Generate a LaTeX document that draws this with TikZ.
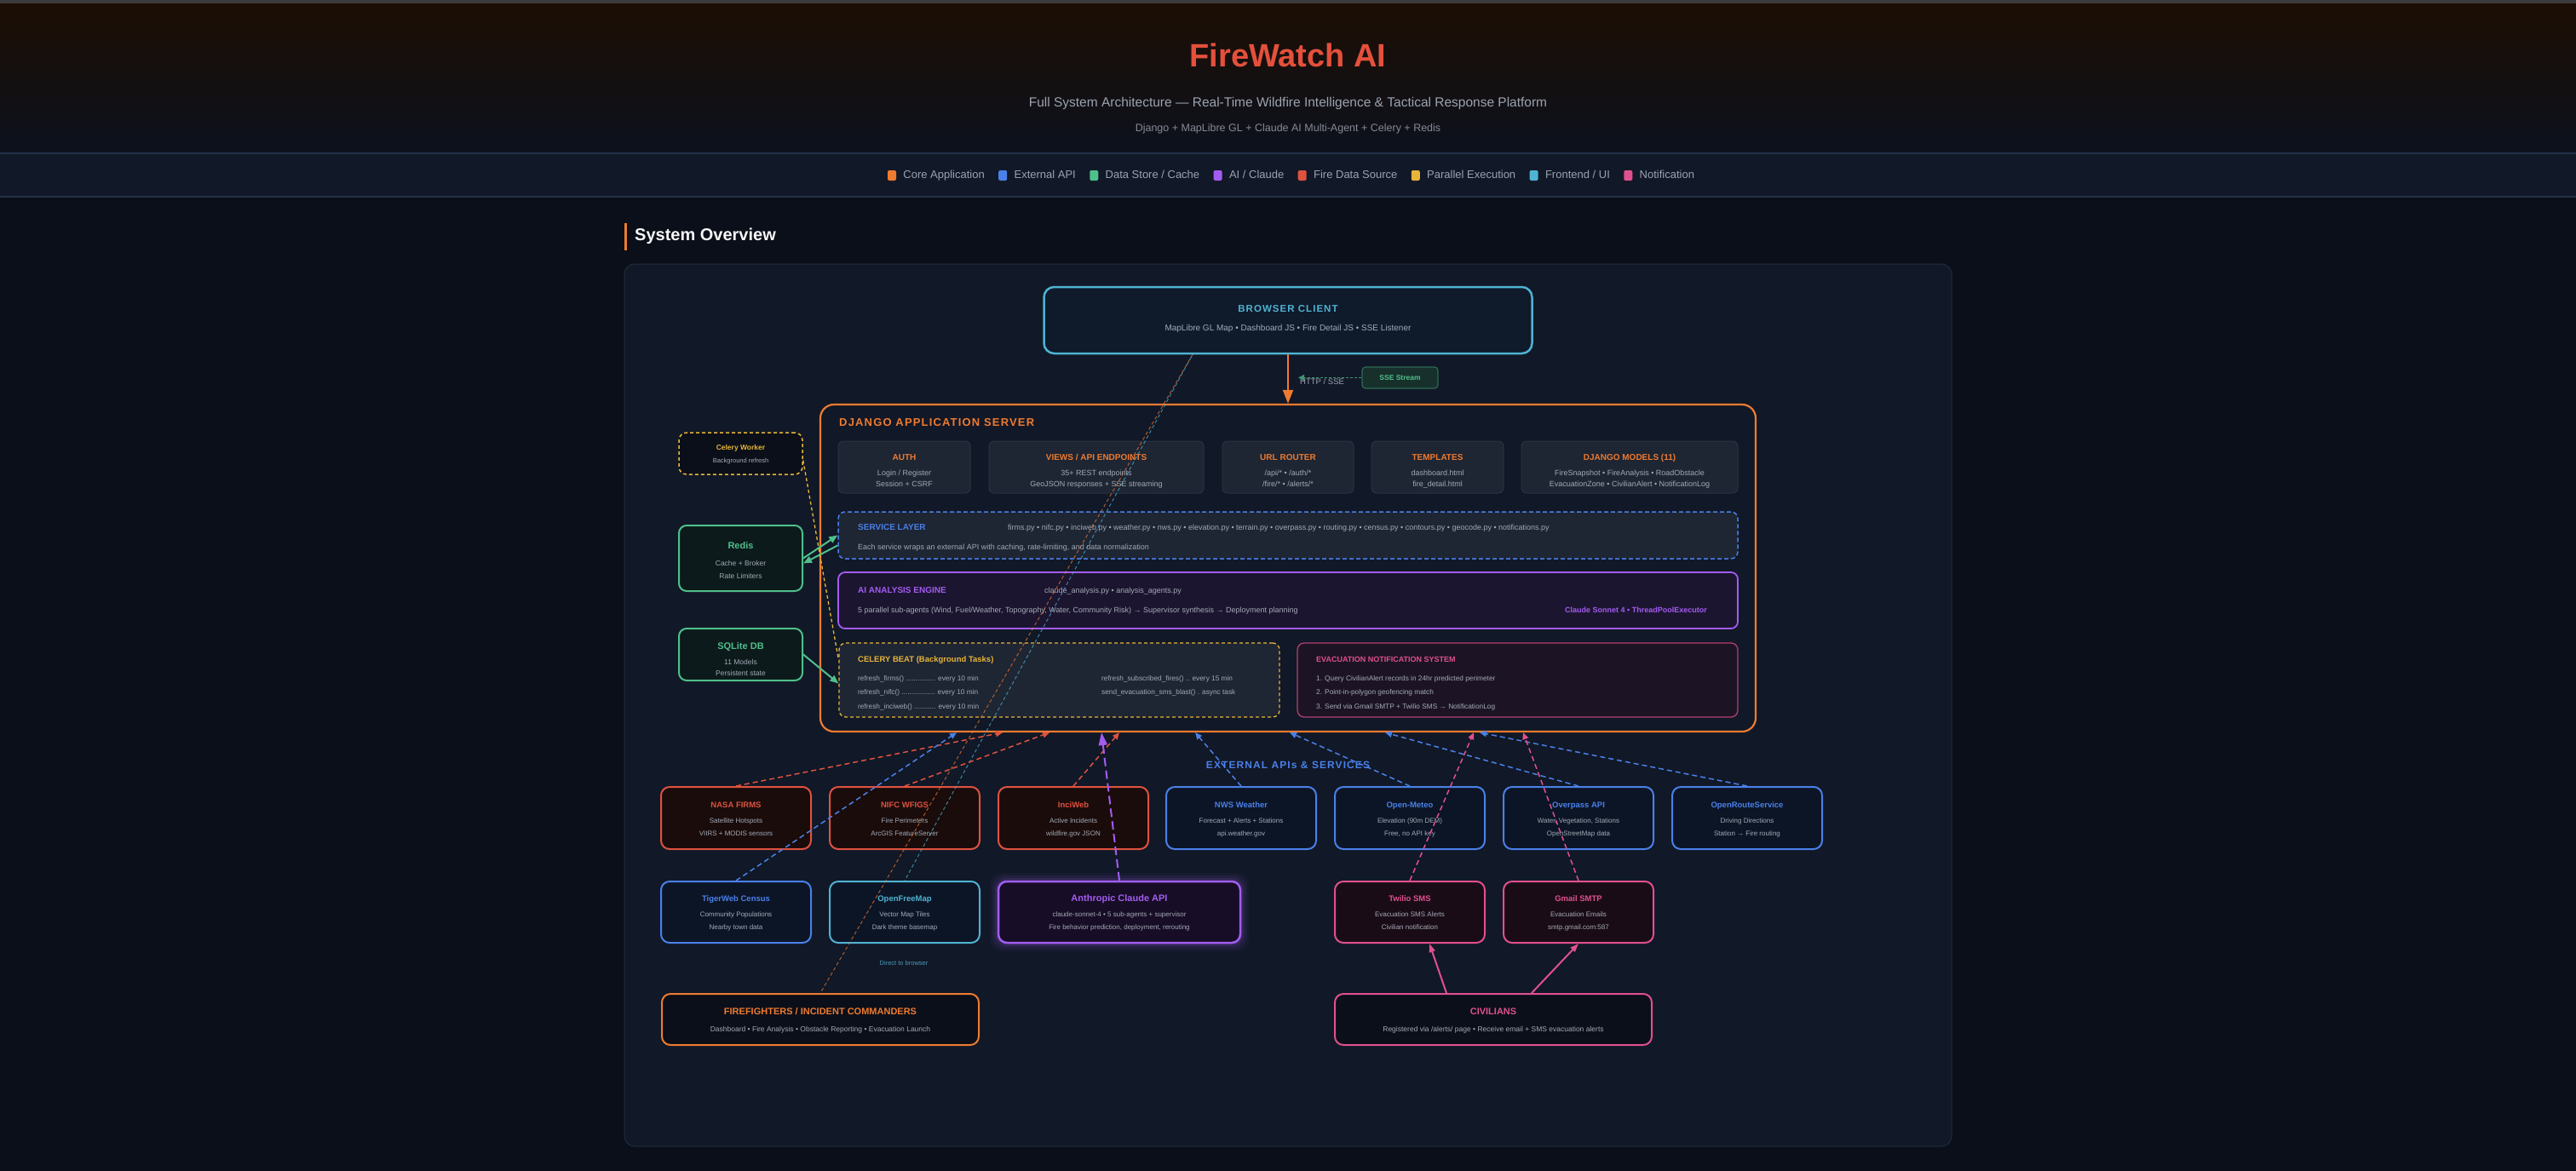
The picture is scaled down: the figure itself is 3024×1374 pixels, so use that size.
\documentclass[tikz,border=0pt]{standalone}
\usepackage{fontspec}
\setmainfont{Liberation Sans}
\newfontfamily\trackfont[LetterSpace=9]{Liberation Sans}
\usetikzlibrary{arrows.meta,calc,positioning}
\newcommand\fsz[1]{\fontsize{#1}{#1}\selectfont}
\definecolor{bgmain}{HTML}{0B0F19}
\definecolor{hdrtop}{HTML}{1C0E03}
\definecolor{hdrbot}{HTML}{0C111D}
\definecolor{topgray}{HTML}{3C3C3C}
\definecolor{legendbg}{HTML}{111827}
\definecolor{legendbd}{HTML}{253147}
\definecolor{panelbg}{HTML}{111827}
\definecolor{panelbd}{HTML}{222C3C}
\definecolor{cTitle}{HTML}{E4503C}
\definecolor{cOrange}{HTML}{EE7B30}
\definecolor{cBlue}{HTML}{4A80E8}
\definecolor{cGreen}{HTML}{4FBF8B}
\definecolor{cPurple}{HTML}{A35CF0}
\definecolor{cRed}{HTML}{DE5240}
\definecolor{cYellow}{HTML}{E6B53A}
\definecolor{cCyan}{HTML}{4FB3D3}
\definecolor{cPink}{HTML}{E0508F}
\definecolor{txtgray}{HTML}{A3AAB6}
\definecolor{hdrgray}{HTML}{9CA3AF}
\definecolor{subbox}{HTML}{1E2533}
\definecolor{subboxbd}{HTML}{2B3444}
\definecolor{darkfill}{HTML}{0B0F19}
\definecolor{redfill}{HTML}{1A0C0B}
\definecolor{bluefill}{HTML}{0C1526}
\definecolor{purplefill}{HTML}{170D26}
\definecolor{pinkfill}{HTML}{1A0C17}
\definecolor{greenfill}{HTML}{0C1A1B}
\definecolor{browserfill}{HTML}{0F1A2B}
\definecolor{aifill}{HTML}{1C1530}
\definecolor{evacfill}{HTML}{1C1424}
\definecolor{ssefill}{HTML}{17302B}
\definecolor{ssebd}{HTML}{2E6A55}
\definecolor{ssearrow}{HTML}{3F9570}
\definecolor{directc}{HTML}{4A9BB5}
% name, x, ytitle, color, title, line1, line2
\newcommand\boxtext[7]{%
  \node[ttl, text=#4] (#1-t) at (#2,#3) {#5};
  \node[lnx] (#1-a) at (#2,#3+18) {#6};
  \node[lnx] (#1-b) at (#2,#3+33) {#7};
}
% name, x, width, title, line1, line2
\newcommand\djsub[6]{%
  \node[subbx, minimum width=#3pt] (#1) at (#2,548.5) {};
  \node[subttl] (#1-t) at (#2,538) {#4};
  \node[subln] (#1-a) at (#2,555.5) {#5};
  \node[subln] (#1-b) at (#2,568.5) {#6};
}
\begin{document}
\begin{tikzpicture}[x=1pt,y=-1pt,
  ttl/.style={inner sep=0pt, anchor=mid, font=\fsz{9.5}\bfseries},
  lnx/.style={inner sep=0pt, anchor=mid, font=\fsz{8}, text=txtgray},
  subttl/.style={inner sep=0pt, anchor=mid, font=\fsz{10}\bfseries, text=cOrange},
  subln/.style={inner sep=0pt, anchor=mid, font=\fsz{9}, text=txtgray},
  wtxt/.style={inner sep=0pt, anchor=mid west},
  subbx/.style={draw=subboxbd, fill=subbox, rounded corners=6pt, line width=1pt, inner sep=0pt, minimum height=61pt},
  extbx/.style={draw=#1, line width=2pt, rounded corners=10pt, inner sep=0pt, minimum width=176pt, minimum height=73pt},
  sidebx/.style={rounded corners=9pt, inner sep=0pt, minimum width=145pt},
  legsq/.style={fill=#1, rounded corners=2pt, minimum width=10pt, minimum height=12pt, inner sep=0pt},
  legtx/.style={inner sep=0pt, font=\fsz{13}, text=hdrgray, text height=9.5pt, text depth=2.5pt},
  dasharr/.style={draw=#1, line width=1.5pt, dash pattern=on 6pt off 4pt, -{Triangle[width=7pt,length=8pt,fill=#1]}},
  greenarr/.style={draw=cGreen, line width=2pt, -{Triangle[width=8pt,length=10pt]}},
  pinkarr/.style={draw=cPink, line width=2pt, -{Triangle[width=7pt,length=10pt]}},
]
\useasboundingbox (0,0) rectangle (3024,1374);
% backgrounds
\fill[bgmain] (-20,-20) rectangle (3044,1394);
\shade[top color=hdrtop, bottom color=hdrbot] (-20,4) rectangle (3044,180);
\fill[topgray] (-20,-20) rectangle (3044,4);
\fill[legendbg] (-20,180) rectangle (3044,231);
\draw[legendbd, line width=1.5pt] (-20,180) -- (3044,180) (-20,231) -- (3044,231);

% header
\node[inner sep=0pt, anchor=mid, text=cTitle, font=\fsz{38}\bfseries] (title) at (1512,76) {FireWatch AI};
\node[inner sep=0pt, anchor=mid, text=hdrgray, font=\fsz{15.5}] (subtitle) at (1512,123) {Full System Architecture — Real-Time Wildfire Intelligence \& Tactical Response Platform};
\node[inner sep=0pt, anchor=mid, text=hdrgray!85!black, font=\fsz{12.5}] (stack) at (1512,152) {Django + MapLibre GL + Claude AI Multi-Agent + Celery + Redis};

% legend
\node[legsq=cOrange] (lg1) at (1047,206) {};
\node[legtx, right=8pt of lg1] (lt1) {Core Application};
\node[legsq=cBlue, right=16pt of lt1] (lg2) {};
\node[legtx, right=8pt of lg2] (lt2) {External API};
\node[legsq=cGreen, right=16pt of lt2] (lg3) {};
\node[legtx, right=8pt of lg3] (lt3) {Data Store / Cache};
\node[legsq=cPurple, right=16pt of lt3] (lg4) {};
\node[legtx, right=8pt of lg4] (lt4) {AI / Claude};
\node[legsq=cRed, right=16pt of lt4] (lg5) {};
\node[legtx, right=8pt of lg5] (lt5) {Fire Data Source};
\node[legsq=cYellow, right=16pt of lt5] (lg6) {};
\node[legtx, right=8pt of lg6] (lt6) {Parallel Execution};
\node[legsq=cCyan, right=16pt of lt6] (lg7) {};
\node[legtx, right=8pt of lg7] (lt7) {Frontend / UI};
\node[legsq=cPink, right=16pt of lt7] (lg8) {};
\node[legtx, right=8pt of lg8] (lt8) {Notification};

% section heading
\fill[cOrange] (733,262) rectangle (736,294);
\node[wtxt, text=white!94!gray, font=\fsz{20}\bfseries] (sysov) at (745,280) {System Overview};

% panel
\node[draw=panelbd, fill=panelbg, rounded corners=12pt, line width=1pt, minimum width=1558pt, minimum height=1036pt, inner sep=0pt] (panel) at (1512,828) {};

% browser
\node[draw=cCyan, fill=browserfill, line width=2.5pt, rounded corners=12pt, minimum width=573pt, minimum height=78pt, inner sep=0pt] (browser) at (1512,376) {};
\node[inner sep=0pt, anchor=mid, text=cCyan, font=\fsz{11.5}\trackfont\bfseries] (browser-t) at (1512,364) {BROWSER CLIENT};
\node[inner sep=0pt, anchor=mid, text=txtgray, font=\fsz{10}] (browser-a) at (1512,386) {MapLibre GL Map • Dashboard JS • Fire Detail JS • SSE Listener};

% SSE
\node[draw=ssebd, fill=ssefill, line width=1.2pt, rounded corners=4pt, minimum width=89pt, minimum height=25pt, inner sep=0pt, text=cGreen, font=\fsz{8.5}\bfseries] (sse) at (1643.5,443.5) {SSE Stream};
\node[wtxt, text=hdrgray, font=\fsz{9.5}] (httplbl) at (1526,449) {HTTP / SSE};

% django
\node[draw=cOrange, fill=panelbg, line width=2.2pt, rounded corners=16pt, minimum width=1098pt, minimum height=384pt, inner sep=0pt] (django) at (1512,667) {};
\node[wtxt, text=cOrange, font=\fsz{13}\trackfont\bfseries] (djlbl) at (985,498) {DJANGO APPLICATION SERVER};

\djsub{auth}{1061.5}{155}{AUTH}{Login / Register}{Session + CSRF}
\djsub{views}{1287}{252}{VIEWS / API ENDPOINTS}{35+ REST endpoints}{GeoJSON responses + SSE streaming}
\djsub{router}{1512}{154}{URL ROUTER}{/api/* • /auth/*}{/fire/* • /alerts/*}
\djsub{templ}{1687.5}{155}{TEMPLATES}{dashboard.html}{fire\_detail.html}
\djsub{models}{1913}{254}{DJANGO MODELS (11)}{FireSnapshot • FireAnalysis • RoadObstacle}{EvacuationZone • CivilianAlert • NotificationLog}

% service layer
\node[draw=cBlue, dash pattern=on 5pt off 3pt, fill=subbox, line width=1.5pt, rounded corners=8pt, minimum width=1056pt, minimum height=55pt, inner sep=0pt] (service) at (1512,628.5) {};
\node[wtxt, text=cBlue, font=\fsz{10}\bfseries] (service-t) at (1007,620) {SERVICE LAYER};
\node[wtxt, text=txtgray, font=\fsz{9}] (service-f) at (1183,620) {firms.py • nifc.py • inciweb.py • weather.py • nws.py • elevation.py • terrain.py • overpass.py • routing.py • census.py • contours.py • geocode.py • notifications.py};
\node[wtxt, text=txtgray, font=\fsz{9}] (service-d) at (1007,642.5) {Each service wraps an external API with caching, rate-limiting, and data normalization};

% AI engine
\node[draw=cPurple, fill=aifill, line width=1.8pt, rounded corners=8pt, minimum width=1056pt, minimum height=66pt, inner sep=0pt] (ai) at (1512,705) {};
\node[wtxt, text=cPurple, font=\fsz{10}\bfseries] (ai-t) at (1007,694) {AI ANALYSIS ENGINE};
\node[wtxt, text=txtgray, font=\fsz{9}] (ai-f) at (1226,694) {claude\_analysis.py • analysis\_agents.py};
\node[wtxt, text=txtgray, font=\fsz{9}] (ai-d) at (1007,716.5) {5 parallel sub-agents (Wind, Fuel/Weather, Topography, Water, Community Risk) → Supervisor synthesis → Deployment planning};
\node[inner sep=0pt, anchor=mid east, text=cPurple, font=\fsz{9}\bfseries] (ai-r) at (2004,716.5) {Claude Sonnet 4 • ThreadPoolExecutor};

% celery beat
\node[draw=cYellow, dash pattern=on 4pt off 3pt, fill=subbox, line width=1.3pt, rounded corners=8pt, minimum width=517pt, minimum height=87pt, inner sep=0pt] (celery) at (1243.5,798.5) {};
\node[wtxt, text=cYellow, font=\fsz{9.5}\bfseries] (celery-t) at (1007,775) {CELERY BEAT (Background Tasks)};
\node[wtxt, text=txtgray, font=\fsz{8.3}] (celery-1) at (1007,797) {refresh\_firms() ............... every 10 min};
\node[wtxt, text=txtgray, font=\fsz{8.3}] (celery-2) at (1007,813) {refresh\_nifc() ................. every 10 min};
\node[wtxt, text=txtgray, font=\fsz{8.3}] (celery-3) at (1007,830) {refresh\_inciweb() ........... every 10 min};
\node[wtxt, text=txtgray, font=\fsz{8.3}] (celery-4) at (1293,797) {refresh\_subscribed\_fires() .. every 15 min};
\node[wtxt, text=txtgray, font=\fsz{8.3}] (celery-5) at (1293,813) {send\_evacuation\_sms\_blast() . async task};

% evacuation
\node[draw=cPink!80!black, fill=evacfill, line width=1.3pt, rounded corners=8pt, minimum width=517pt, minimum height=87pt, inner sep=0pt] (evac) at (1781.5,798.5) {};
\node[wtxt, text=cPink, font=\fsz{9}\bfseries] (evac-t) at (1545,775) {EVACUATION NOTIFICATION SYSTEM};
\node[wtxt, text=txtgray, font=\fsz{8.3}] (evac-1) at (1545,797) {1. Query CivilianAlert records in 24hr predicted perimeter};
\node[wtxt, text=txtgray, font=\fsz{8.3}] (evac-2) at (1545,813) {2. Point-in-polygon geofencing match};
\node[wtxt, text=txtgray, font=\fsz{8.3}] (evac-3) at (1545,830) {3. Send via Gmail SMTP + Twilio SMS → NotificationLog};

% side boxes
\node[sidebx, draw=cYellow, dash pattern=on 4pt off 3pt, line width=1.5pt, fill=darkfill, minimum height=49pt] (worker) at (869.5,532.5) {};
\node[inner sep=0pt, anchor=mid, text=cYellow, font=\fsz{8.5}\bfseries] (worker-t) at (869.5,525.5) {Celery Worker};
\node[inner sep=0pt, anchor=mid, text=txtgray, font=\fsz{7.5}] (worker-a) at (869.5,540.5) {Background refresh};
\node[sidebx, draw=cGreen, line width=2pt, fill=greenfill, minimum height=77pt] (redis) at (869.5,655.5) {};
\node[inner sep=0pt, anchor=mid, text=cGreen, font=\fsz{11}\bfseries] (redis-t) at (869.5,642) {Redis};
\node[inner sep=0pt, anchor=mid, text=txtgray, font=\fsz{8.5}] (redis-a) at (869.5,661.5) {Cache + Broker};
\node[inner sep=0pt, anchor=mid, text=txtgray, font=\fsz{8.5}] (redis-b) at (869.5,676.5) {Rate Limiters};
\node[sidebx, draw=cGreen, line width=2pt, fill=greenfill, minimum height=61pt] (sqlite) at (869.5,768.5) {};
\node[inner sep=0pt, anchor=mid, text=cGreen, font=\fsz{11}\bfseries] (sqlite-t) at (869.5,760) {SQLite DB};
\node[inner sep=0pt, anchor=mid, text=txtgray, font=\fsz{8.5}] (sqlite-a) at (869.5,777.5) {11 Models};
\node[inner sep=0pt, anchor=mid, text=txtgray, font=\fsz{8.5}] (sqlite-b) at (869.5,790.5) {Persistent state};

% external label
\node[inner sep=0pt, anchor=mid, text=cBlue, font=\fsz{12}\trackfont\bfseries] (extlbl) at (1512,900) {EXTERNAL APIs \& SERVICES};

% row 1
\node[extbx=cRed, fill=redfill] (firms) at (864,960.5) {};
\boxtext{firms}{864}{946}{cRed}{NASA FIRMS}{Satellite Hotspots}{VIIRS + MODIS sensors}
\node[extbx=cRed, fill=redfill] (nifc) at (1062,960.5) {};
\boxtext{nifc}{1062}{946}{cRed}{NIFC WFIGS}{Fire Perimeters}{ArcGIS FeatureServer}
\node[extbx=cRed, fill=redfill] (inciweb) at (1260,960.5) {};
\boxtext{inciweb}{1260}{946}{cRed}{InciWeb}{Active Incidents}{wildfire.gov JSON}
\node[extbx=cBlue, fill=bluefill] (nws) at (1457,960.5) {};
\boxtext{nws}{1457}{946}{cBlue}{NWS Weather}{Forecast + Alerts + Stations}{api.weather.gov}
\node[extbx=cBlue, fill=bluefill] (meteo) at (1655,960.5) {};
\boxtext{meteo}{1655}{946}{cBlue}{Open-Meteo}{Elevation (90m DEM)}{Free, no API key}
\node[extbx=cBlue, fill=bluefill] (overpass) at (1853,960.5) {};
\boxtext{overpass}{1853}{946}{cBlue}{Overpass API}{Water, Vegetation, Stations}{OpenStreetMap data}
\node[extbx=cBlue, fill=bluefill] (ors) at (2051,960.5) {};
\boxtext{ors}{2051}{946}{cBlue}{OpenRouteService}{Driving Directions}{Station → Fire routing}

% row 2
\node[extbx=cBlue, fill=bluefill, minimum height=72pt] (tiger) at (864,1071) {};
\boxtext{tiger}{864}{1056}{cBlue}{TigerWeb Census}{Community Populations}{Nearby town data}
\node[extbx=cCyan, fill=bluefill, minimum height=72pt] (ofm) at (1062,1071) {};
\boxtext{ofm}{1062}{1056}{cCyan}{OpenFreeMap}{Vector Map Tiles}{Dark theme basemap}
\foreach \g/\o in {10/0.05,7/0.08,4/0.12}{
  \fill[cPurple, opacity=\o, rounded corners=14pt] (1172-\g,1035-\g) rectangle (1456+\g,1107+\g);
}
\node[extbx=cPurple, fill=purplefill, minimum width=284pt, minimum height=72pt, line width=2.5pt] (claude) at (1314,1071) {};
\node[inner sep=0pt, anchor=mid, text=cPurple, font=\fsz{11}\bfseries] (claude-t) at (1314,1056) {Anthropic Claude API};
\node[lnx] (claude-a) at (1314,1074) {claude-sonnet-4 • 5 sub-agents + supervisor};
\node[lnx] (claude-b) at (1314,1089) {Fire behavior prediction, deployment, rerouting};
\node[extbx=cPink, fill=pinkfill, minimum height=72pt] (twilio) at (1655,1071) {};
\boxtext{twilio}{1655}{1056}{cPink}{Twilio SMS}{Evacuation SMS Alerts}{Civilian notification}
\node[extbx=cPink, fill=pinkfill, minimum height=72pt] (gmail) at (1853,1071) {};
\boxtext{gmail}{1853}{1056}{cPink}{Gmail SMTP}{Evacuation Emails}{smtp.gmail.com:587}

\node[inner sep=0pt, anchor=mid, text=directc, font=\fsz{7.5}] (direct) at (1061,1131) {Direct to browser};

% row 3
\node[draw=cOrange, fill=darkfill, line width=2pt, rounded corners=10pt, minimum width=372pt, minimum height=60pt, inner sep=0pt] (ff) at (963,1197) {};
\node[inner sep=0pt, anchor=mid, text=cOrange, font=\fsz{11}\bfseries] (ff-t) at (963,1189) {FIREFIGHTERS / INCIDENT COMMANDERS};
\node[lnx, font=\fsz{8.5}] (ff-a) at (963,1208.5) {Dashboard • Fire Analysis • Obstacle Reporting • Evacuation Launch};
\node[draw=cPink, fill=darkfill, line width=2pt, rounded corners=10pt, minimum width=372pt, minimum height=60pt, inner sep=0pt] (civ) at (1753,1197) {};
\node[inner sep=0pt, anchor=mid, text=cPink, font=\fsz{11}\bfseries] (civ-t) at (1753,1189) {CIVILIANS};
\node[lnx, font=\fsz{8.5}] (civ-a) at (1753,1208.5) {Registered via /alerts/ page • Receive email + SMS evacuation alerts};

% ---------- connectors ----------
\draw[cOrange, line width=2pt, -{Triangle[width=12pt,length=16pt]}] (browser.south) -- (django.north);
\coordinate (sseend) at (1524,443.5);
\draw[ssearrow, line width=1.8pt, dash pattern=on 3pt off 2pt, -{Triangle[width=7pt,length=7pt]}] (sse.west) -- (sseend);

\coordinate (bfork) at ($(browser.south)+(-112,0)$);
\draw[cOrange, opacity=0.7, line width=1pt, dash pattern=on 4pt off 3pt] (bfork) -- (ff.north);
\draw[cCyan, opacity=0.7, line width=1pt, dash pattern=on 4pt off 3pt, dash phase=3.5pt] (bfork) -- (ofm.north);

\draw[greenarr] (redis.east) -- (service.west);
\draw[greenarr] ($(service.west)+(0,12)$) -- ($(redis.east)+(0,6)$);
\draw[greenarr] (sqlite.east) -- ($(celery.west)+(0,4)$);
\draw[cYellow, line width=1.3pt, dash pattern=on 4pt off 3pt] ($(worker.east)+(0,8)$) -- ($(celery.west)+(0,-24)$);

\draw[dasharr=cRed] (firms.north) -- ($(django.south)+(-335,0)$);
\draw[dasharr=cRed] (nifc.north) -- ($(django.south)+(-280,0)$);
\draw[dasharr=cRed] (inciweb.north) -- ($(django.south)+(-198,0)$);
\draw[dasharr=cBlue] (tiger.north) -- ($(django.south)+(-389,0)$);
\draw[dasharr=cBlue] (nws.north) -- ($(django.south)+(-109,0)$);
\draw[dasharr=cBlue] (meteo.north) -- ($(django.south)+(2,0)$);
\draw[dasharr=cBlue] (overpass.north) -- ($(django.south)+(114,0)$);
\draw[dasharr=cBlue] (ors.north) -- ($(django.south)+(225,0)$);
\draw[dasharr=cPink] (twilio.north) -- ($(django.south)+(218,0)$);
\draw[dasharr=cPink] (gmail.north) -- ($(django.south)+(276,0)$);
\draw[cPurple, line width=2pt, dash pattern=on 10pt off 5pt, -{Triangle[width=10pt,length=15pt]}] (claude.north) -- ($(django.south)+(-219,0)$);

\draw[pinkarr] ($(civ.north)+(-55,0)$) -- ($(twilio.south)+(23,0)$);
\draw[pinkarr] ($(civ.north)+(45,0)$) -- (gmail.south);
\end{tikzpicture}
\end{document}
